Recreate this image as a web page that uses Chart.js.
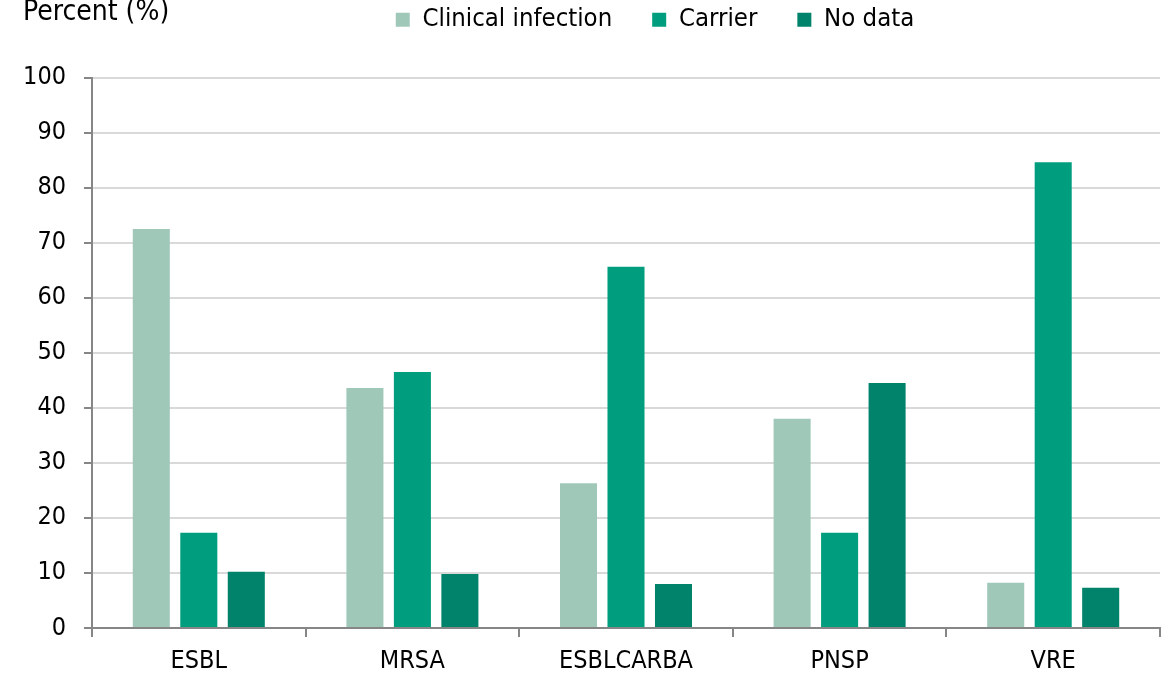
<!DOCTYPE html>
<html>
<head>
<meta charset="utf-8">
<script src="https://cdn.jsdelivr.net/npm/chart.js@4"></script>
<style>
  body { margin: 0; background: #fff; }
</style>
</head>
<body>
<canvas id="barChart" width="1173" height="678"></canvas>
<script>
    // data
    const categories = ['ESBL', 'MRSA', 'ESBLCARBA', 'PNSP', 'VRE'];
    const clinicalInfection = [72.5, 43.6, 26.3, 38.0, 8.2];
    const carrier = [17.3, 46.5, 65.6, 17.3, 84.6];
    const noData = [10.2, 9.8, 8.0, 44.5, 7.3];
    const seriesNames = ['Clinical infection', 'Carrier', 'No data'];

    const fontFamily = '"DejaVu Sans Condensed", "DejaVu Sans", sans-serif';

    // "Percent (%)" label in the top-left corner
    const cornerTitle = {
        id: 'cornerTitle',
        afterDraw(chart) {
            const ctx = chart.ctx;
            ctx.save();
            ctx.font = '28px ' + fontFamily;
            ctx.fillStyle = '#000';
            ctx.textAlign = 'left';
            ctx.textBaseline = 'alphabetic';
            ctx.fillText('Percent (%)', 23, 20);
            ctx.restore();
        }
    };

    // extra room between the legend and the plot, legend sits right of centre
    const legendGap = {
        id: 'legendGap',
        beforeLayout(chart) {
            const legend = chart.legend;
            if (!legend || legend._gapPatched) return;
            const fit = legend.fit;
            legend.fit = function () {
                fit.call(this);
                this.height += 35;
            };
            legend._gapPatched = true;
        },
        afterLayout(chart) {
            if (chart.legend) chart.legend.left += 150;
        }
    };

    const barCtx = document.getElementById('barChart').getContext('2d');
    new Chart(barCtx, {
        type: 'bar',
        data: {
            labels: categories,
            datasets: [{
                label: seriesNames[0],
                data: clinicalInfection,
                backgroundColor: '#a0c8b9'
            }, {
                label: seriesNames[1],
                data: carrier,
                backgroundColor: '#009e7e'
            }, {
                label: seriesNames[2],
                data: noData,
                backgroundColor: '#00836a'
            }]
        },
        options: {
            responsive: false,
            animation: false,
            datasets: {
                bar: { barPercentage: 0.78, categoryPercentage: 0.667 }
            },
            layout: {
                padding: { top: -33, right: 13, bottom: -7, left: 0 }
            },
            plugins: {
                legend: {
                    position: 'top',
                    align: 'center',
                    labels: {
                        boxWidth: 14,
                        boxHeight: 14,
                        padding: 40,
                        color: '#000',
                        font: { family: fontFamily, size: 25.5 }
                    }
                },
                tooltip: { enabled: false }
            },
            scales: {
                x: {
                    grid: {
                        display: true,
                        offset: true,
                        drawOnChartArea: false,
                        tickLength: 9,
                        tickColor: '#868686',
                        lineWidth: 2
                    },
                    border: { color: '#868686', width: 2 },
                    ticks: {
                        color: '#000',
                        padding: 9,
                        font: { family: fontFamily, size: 25 }
                    }
                },
                y: {
                    min: 0,
                    max: 100,
                    afterFit(scale) { scale.width = 92; },
                    ticks: {
                        stepSize: 10,
                        color: '#000',
                        padding: 18,
                        font: { family: fontFamily, size: 25 }
                    },
                    grid: {
                        color: '#d9d9d9',
                        lineWidth: 2,
                        tickLength: 8,
                        tickColor: '#868686'
                    },
                    border: { color: '#868686', width: 2 }
                }
            }
        },
        plugins: [cornerTitle, legendGap]
    });
</script>
</body>
</html>
